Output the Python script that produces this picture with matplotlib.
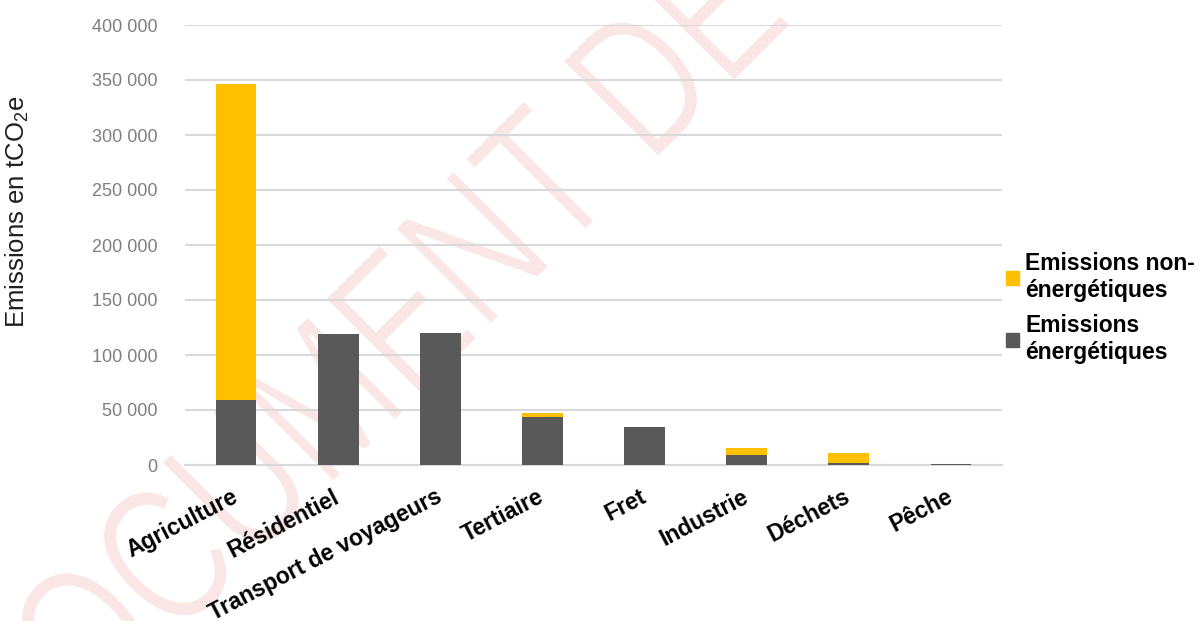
import matplotlib
matplotlib.use("Agg")
import matplotlib.pyplot as plt
from matplotlib.patches import Patch, PathPatch
from matplotlib.textpath import TextPath
from matplotlib.font_manager import FontProperties
from matplotlib.transforms import Affine2D
from matplotlib.ticker import FuncFormatter
import numpy as np

plt.rcParams['font.family'] = ['Liberation Sans', 'DejaVu Sans']
plt.rcParams['mathtext.default'] = 'regular'

categories = ['Agriculture', 'Résidentiel', 'Transport de voyageurs', 'Tertiaire',
              'Fret', 'Industrie', 'Déchets', 'Pêche']
energetiques = [59000, 119000, 120000, 44000, 34500, 9400, 2000, 700]
non_energetiques = [287000, 0, 0, 3000, 0, 6000, 9000, 0]

label_energ = 'Emissions\nénergétiques'
label_non_energ = 'Emissions non-\nénergétiques'

col_energ = '#595959'
col_non_energ = '#FFC000'
grid_col = '#D9D9D9'

fig = plt.figure(figsize=(12.04, 6.21), dpi=100)
ax = fig.add_axes([185 / 1204, 1 - 465 / 621, 817 / 1204, 440 / 621])
ax.patch.set_alpha(0)

# watermark: narrow text path at 45 degrees, in pixel coordinates.
# the white outline thins the letters down to a light stroke
wm_font = FontProperties(family=['Liberation Sans Narrow', 'Liberation Sans'])
wm_path = TextPath((0, 0), 'DOCUMENT DE TRAVAIL', size=1, prop=wm_font)
first_word_end = TextPath((0, 0), 'DOCUMENT', size=1, prop=wm_font).get_extents().x1
em = 198
wm_tr = (Affine2D().translate(-first_word_end, 0).scale(0.75 * em, em)
         .rotate_deg(45).translate(620, 621 - 196))
fig.add_artist(PathPatch(wm_path, transform=wm_tr, facecolor='#FAE7E5',
                         edgecolor='white', linewidth=2.2, joinstyle='round',
                         zorder=-5))

x = np.arange(len(categories))
ax.bar(x, energetiques, width=0.4, color=col_energ, zorder=3)
ax.bar(x, non_energetiques, width=0.4, bottom=energetiques, color=col_non_energ, zorder=3)

ax.set_xlim(-0.5, len(categories) - 0.5)
ax.set_ylim(0, 400000)
ax.set_yticks(np.arange(0, 400001, 50000))
ax.yaxis.set_major_formatter(FuncFormatter(lambda v, p: f'{int(v):,}'.replace(',', ' ')))
ax.grid(axis='y', color=grid_col, linewidth=1.5, zorder=0)
for s in ['top', 'right', 'left']:
    ax.spines[s].set_visible(False)
ax.spines['bottom'].set_color(grid_col)
ax.spines['bottom'].set_linewidth(1.5)
ax.tick_params(axis='both', length=0)
ax.tick_params(axis='y', labelsize=13, labelcolor='#7F7F7F', pad=20)

ax.set_xticks(x)
ax.set_xticklabels(categories, rotation=27.5, ha='right', va='center',
                   rotation_mode='anchor', fontsize=16.5, fontweight='bold')
ax.tick_params(axis='x', pad=22)

fig.text(17 / 1204, 1 - 212 / 621, r'Emissions en tCO$_2$e', rotation=90,
         ha='center', va='center', fontsize=18.5, color='#1F1F1F')

handles = [Patch(color=col_non_energ), Patch(color=col_energ)]
fig.legend(handles, [label_non_energ, label_energ], loc='center left',
           bbox_to_anchor=(985 / 1204, 1 - 308 / 621), frameon=False,
           prop={'weight': 'bold', 'size': 16.5}, handlelength=0.6, handleheight=0.6,
           handletextpad=0.25, labelspacing=0.55)

fig.savefig('out.png', dpi=100)
